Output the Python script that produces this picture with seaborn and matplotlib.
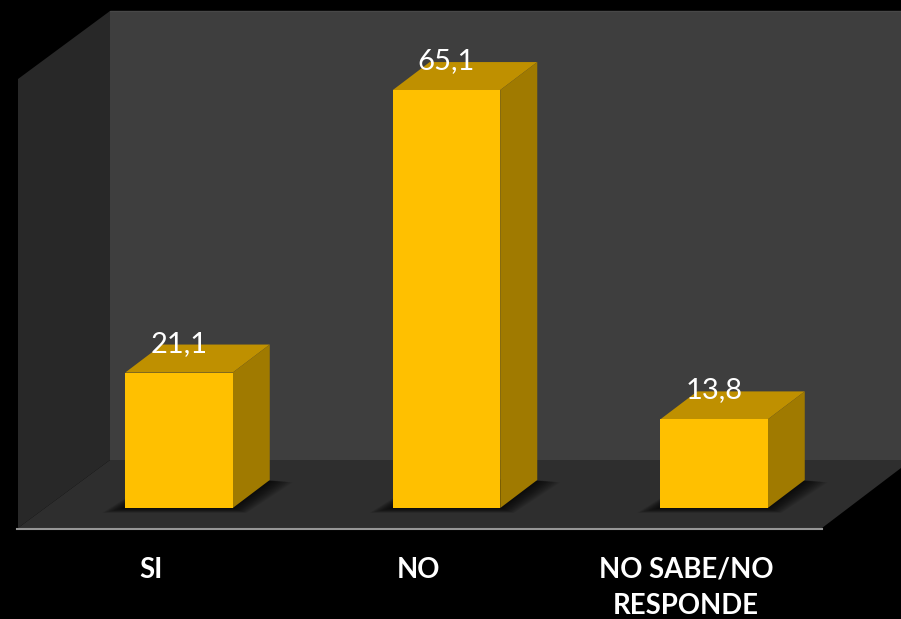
import numpy as np
import pandas as pd
import seaborn as sns
import matplotlib.pyplot as plt
from matplotlib.patches import Polygon
from matplotlib.transforms import Affine2D

categories = ["SI", "NO", "NO SABE/NO\nRESPONDE"]
values = [21.1, 65.1, 13.8]

# escala en pixeles
W, H = 901, 619
PX_X = 267.5      # px entre categorias
PX_Y = 6.42       # px por unidad
X0 = 179          # centro de la primera barra
Y0 = 508          # linea base
AXIS_Y = 529
DEPTH_X = 37 / PX_X
DEPTH_Y = 28 / PX_Y

sns.set_theme(style="dark", rc={"figure.facecolor": "black", "axes.facecolor": "black",
                                "savefig.facecolor": "black"})
plt.rcParams["font.family"] = ["Lato", "DejaVu Sans"]

fig = plt.figure(figsize=(W / 100, H / 100), dpi=100)
ax = fig.add_axes([0, (H - AXIS_Y) / H, 1, AXIS_Y / H])

df = pd.DataFrame({"categoria": categories, "valor": values})
sns.barplot(data=df, x="categoria", y="valor", color="#FFC000", saturation=1,
            width=107.5 / PX_X, linewidth=0, ax=ax, zorder=5)

ax.set_xlim(-X0 / PX_X, (W - X0) / PX_X)
ax.set_ylim(-(AXIS_Y - Y0) / PX_Y, Y0 / PX_Y)
ax.set_xlabel("")
ax.set_ylabel("")
ax.set_yticks([])
ax.grid(False)

# paredes y piso en coordenadas de pixel
px = Affine2D().scale(1, -1).translate(0, H)
ax.add_patch(Polygon([(110, 11), (901, 11), (901, 460), (110, 460)], fc="#3E3E3E", ec="none",
                     transform=px, zorder=1))
ax.plot([110, 901], [11, 11], color="#484848", lw=1, transform=px, zorder=1.1)
ax.add_patch(Polygon([(18, 79), (110, 11), (110, 460), (18, 528)], fc="#282828", ec="none",
                     transform=px, zorder=1))
ax.add_patch(Polygon([(18, 528), (110, 460), (901, 460), (901, 468), (822, 528)], fc="#2E2E2E",
                     ec="none", transform=px, zorder=1))

# sombra suave, caras superior y lateral de cada barra
bars = ax.containers[0]
for bar in bars:
    x, w, h = bar.get_x(), bar.get_width(), bar.get_height()
    for grow in np.arange(1, 13):
        gx = grow * 1.9 / PX_X
        gy = grow * 0.4 / PX_Y
        ax.add_patch(Polygon([(x - gx, -gy), (x + w + gx * 0.6, -gy),
                              (x + w + DEPTH_X + gx, DEPTH_Y - gy * 0.5), (x + DEPTH_X, DEPTH_Y + gy)],
                             fc="black", ec="none", alpha=0.085, zorder=2))
    ax.add_patch(Polygon([(x, h), (x + w, h), (x + w + DEPTH_X, h + DEPTH_Y), (x + DEPTH_X, h + DEPTH_Y)],
                         fc="#BF9000", ec="none", zorder=4))
    ax.add_patch(Polygon([(x + w, 0), (x + w + DEPTH_X, DEPTH_Y), (x + w + DEPTH_X, h + DEPTH_Y), (x + w, h)],
                         fc="#A07A00", ec="none", zorder=4))

labels = [f"{v:.1f}".replace(".", ",") for v in values]
ax.bar_label(bars, labels=labels, padding=11.5, color="white", fontsize=21, zorder=6)

# las etiquetas del eje van corridas respecto a la barra por la perspectiva
ax.set_xticks([i - 28 / PX_X for i in range(len(categories))])
ax.set_xticklabels(categories, color="white", fontsize=19.8, fontweight="bold", linespacing=1.5)
ax.tick_params(axis="x", length=0, pad=20)

sns.despine(ax=ax, left=True, right=True, top=True)
ax.spines["bottom"].set_color("#969696")
ax.spines["bottom"].set_linewidth(1.5)
ax.spines["bottom"].set_bounds((17 - X0) / PX_X, (822 - X0) / PX_X)

fig.savefig("out.png", dpi=100)
